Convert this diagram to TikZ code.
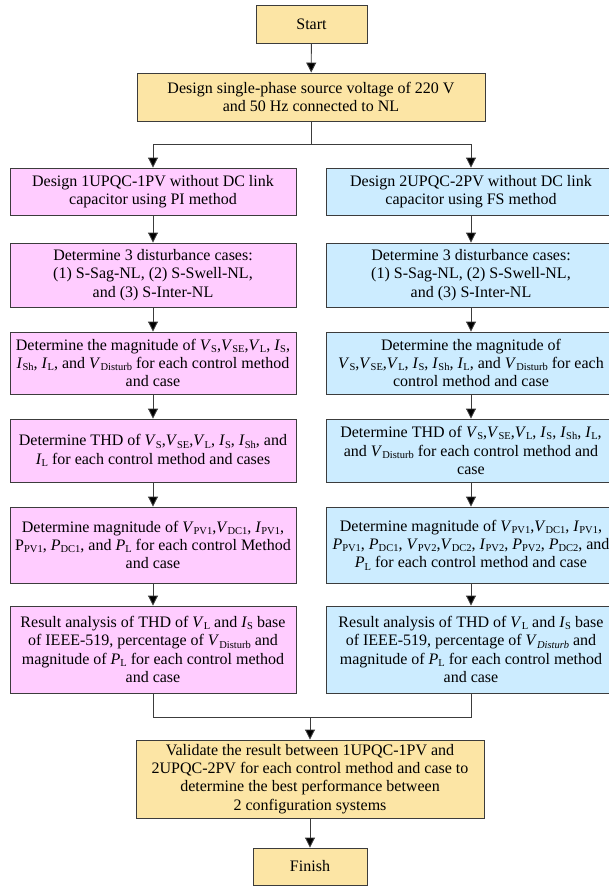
\documentclass[tikz,border=0pt]{standalone}
\usepackage{fontspec}
\setmainfont{Liberation Serif}
\usetikzlibrary{arrows.meta}
\newcommand{\sbs}[1]{\raisebox{-0.3ex}{\fontsize{10.5}{10.5}\selectfont #1}}
\newcommand{\vs}[2]{\textit{#1}\sbs{#2}}
\definecolor{fillyellow}{RGB}{252,229,165}
\definecolor{fillpink}{RGB}{255,204,255}
\definecolor{fillblue}{RGB}{204,236,255}
\definecolor{linegray}{RGB}{60,60,60}

\begin{document}
\begin{tikzpicture} [x=1pt, y=-1pt,
            every node/.style={draw=linegray, line width=0.9pt, align=center, inner sep=0pt,
              font=\fontsize{16}{18.3}\selectfont},
            box_yellow/.style={fill=fillyellow},
            box_pink/.style={fill=fillpink, minimum width=286pt},
            box_blue/.style={fill=fillblue, minimum width=290pt},
            edge_style/.style={draw=linegray, line width=0.9pt},
            arrow_style/.style={edge_style, -{Triangle[length=10pt, width=10pt, fill=black]}}]
            \useasboundingbox (0,0) rectangle (609,887);
            \node[box_yellow, minimum width=111pt, minimum height=38pt] (start) at (311.5,24) {Start};
            \node[box_yellow, minimum width=348pt, minimum height=48pt] (design) at (311,97)
              {Design single-phase source voltage of 220 V\\ and 50 Hz connected to NL};
            % left branch: 1UPQC-1PV
            \node[box_pink, minimum height=47pt] (l1) at (153,191.5)
              {Design 1UPQC-1PV without DC link\\ capacitor using PI method};
            \node[box_pink, minimum height=64pt] (l2) at (153,275)
              {Determine 3 disturbance cases:\\ (1) S-Sag-NL, (2) S-Swell-NL,\\ and (3) S-Inter-NL};
            \node[box_pink, minimum height=62pt] (l3) at (153,363)
              {Determine the magnitude of \vs{V}{S},\vs{V}{SE},\vs{V}{L}, \vs{I}{S},\\
               \vs{I}{Sh}, \vs{I}{L}, and \vs{V}{Disturb} for each control method\\ and case};
            \node[box_pink, minimum height=63pt] (l4) at (153,450.5)
              {Determine THD of \vs{V}{S},\vs{V}{SE},\vs{V}{L}, \vs{I}{S}, \vs{I}{Sh}, and\\
               \vs{I}{L} for each control method and cases};
            \node[box_pink, minimum height=76pt] (l5) at (153,545)
              {Determine magnitude of \vs{V}{PV1},\vs{V}{DC1}, \vs{I}{PV1},\\
               P\sbs{PV1}, \vs{P}{DC1}, and \vs{P}{L} for each control Method\\ and case};
            \node[box_pink, minimum height=87pt] (l6) at (153,649.5)
              {Result analysis of THD of \vs{V}{L} and \vs{I}{S} base\\
               of IEEE-519, percentage of \vs{V}{Disturb} and\\
               magnitude of \vs{P}{L} for each control method\\ and case};
            % right branch: 2UPQC-2PV
            \node[box_blue, minimum height=47pt] (r1) at (471,191.5)
              {Design 2UPQC-2PV without DC link\\ capacitor using FS method};
            \node[box_blue, minimum height=64pt] (r2) at (471,275)
              {Determine 3 disturbance cases:\\ (1) S-Sag-NL, (2) S-Swell-NL,\\ and (3) S-Inter-NL};
            \node[box_blue, minimum height=62pt] (r3) at (471,363)
              {Determine the magnitude of\\
               \vs{V}{S},\vs{V}{SE},\vs{V}{L}, \vs{I}{S}, \vs{I}{Sh}, \vs{I}{L}, and \vs{V}{Disturb} for each\\
               control method and case};
            \node[box_blue, minimum height=63pt] (r4) at (471,450.5)
              {Determine THD of \vs{V}{S},\vs{V}{SE},\vs{V}{L}, \vs{I}{S}, \vs{I}{Sh}, \vs{I}{L},\\
               and \vs{V}{Disturb} for each control method and\\ case};
            \node[box_blue, minimum height=76pt] (r5) at (471,545)
              {Determine magnitude of \vs{V}{PV1},\vs{V}{DC1}, \vs{I}{PV1},\\
               \vs{P}{PV1}, \vs{P}{DC1}, \vs{V}{PV2},\vs{V}{DC2}, \vs{I}{PV2}, \vs{P}{PV2}, \vs{P}{DC2}, and\\
               \vs{P}{L} for each control method and case};
            \node[box_blue, minimum height=87pt] (r6) at (471,649.5)
              {Result analysis of THD of \vs{V}{L} and \vs{I}{S} base\\
               of IEEE-519, percentage of \textit{V}\sbs{\textit{Disturb}} and\\
               magnitude of \vs{P}{L} for each control method\\ and case};
            % merge
            \node[box_yellow, minimum width=348pt, minimum height=78pt] (validate) at (310,779)
              {Validate the result between 1UPQC-1PV and\\
               2UPQC-2PV for each control method and case to\\
               determine the best performance between\\ 2 configuration systems};
            \node[box_yellow, minimum width=114pt, minimum height=37pt] (finish) at (310,866.5) {Finish};
            \coordinate (split) at (311,144);
            \coordinate (merge) at (310,717);
            \draw[arrow_style] (start) -- (design);
            \draw[edge_style] (design) -- (split);
            \draw[arrow_style] (split) -| (l1);
            \draw[arrow_style] (split) -| (r1);
            \draw[arrow_style] (l1) -- (l2);
            \draw[arrow_style] (l2) -- (l3);
            \draw[arrow_style] (l3) -- (l4);
            \draw[arrow_style] (l4) -- (l5);
            \draw[arrow_style] (l5) -- (l6);
            \draw[arrow_style] (r1) -- (r2);
            \draw[arrow_style] (r2) -- (r3);
            \draw[arrow_style] (r3) -- (r4);
            \draw[arrow_style] (r4) -- (r5);
            \draw[arrow_style] (r5) -- (r6);
            \draw[edge_style] (l6) |- (merge) -| (r6);
            \draw[arrow_style] (merge) -- (validate);
            \draw[arrow_style] (validate) -- (finish);
        \end{tikzpicture}
\end{document}
